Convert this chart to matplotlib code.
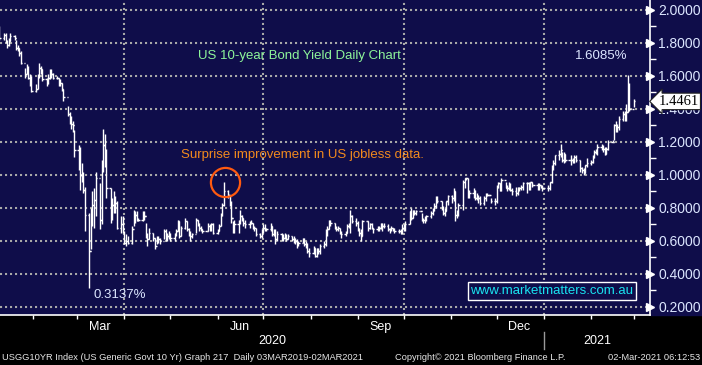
import numpy as np
import pandas as pd
import matplotlib
matplotlib.use('Agg')
import matplotlib.pyplot as plt
import matplotlib.dates as mdates
from matplotlib.patches import Rectangle
from matplotlib.lines import Line2D
from matplotlib.transforms import blended_transform_factory

plt.rcParams['font.family'] = ['Liberation Sans', 'DejaVu Sans']

# daily US 10y yield bars, business days 08-Jan-2020 .. 01-Mar-2021 (one line per month)
CLOSE = [
    1.87, 1.86, 1.83, 1.85, 1.81, 1.79, 1.81, 1.84, 1.83, 1.77, 1.77, 1.74, 1.68, 1.61, 1.65, 1.59, 1.58, 1.51,
    1.52, 1.60, 1.65, 1.64, 1.58, 1.56, 1.59, 1.62, 1.61, 1.59, 1.59, 1.55, 1.56, 1.52, 1.47, 1.37, 1.33, 1.31, 1.30, 1.15,
    1.16, 1.00, 1.00, 0.91, 0.76, 0.54, 0.77, 0.82, 0.85, 0.98, 0.73, 1.08, 1.18, 1.12, 0.92, 0.76, 0.82, 0.86, 0.83, 0.68, 0.70, 0.67,
    0.59, 0.60, 0.59, 0.67, 0.73, 0.76, 0.73, 0.73, 0.77, 0.75, 0.63, 0.61, 0.65, 0.62, 0.57, 0.62, 0.61, 0.60, 0.66, 0.61, 0.63, 0.64,
    0.62, 0.64, 0.66, 0.72, 0.63, 0.68, 0.72, 0.67, 0.65, 0.63, 0.64, 0.73, 0.70, 0.68, 0.67, 0.66, 0.66, 0.69, 0.68, 0.70, 0.65,
    0.66, 0.69, 0.76, 0.82, 0.90, 0.88, 0.83, 0.74, 0.66, 0.70, 0.72, 0.75, 0.74, 0.71, 0.70, 0.71, 0.71, 0.68, 0.68, 0.64, 0.63, 0.66,
    0.68, 0.67, 0.67, 0.69, 0.64, 0.66, 0.61, 0.64, 0.62, 0.62, 0.63, 0.61, 0.63, 0.61, 0.61, 0.60, 0.58, 0.59, 0.61, 0.58, 0.58, 0.54, 0.53,
    0.56, 0.51, 0.55, 0.54, 0.57, 0.58, 0.66, 0.67, 0.72, 0.71, 0.68, 0.67, 0.68, 0.65, 0.64, 0.65, 0.69, 0.69, 0.75, 0.72, 0.71,
    0.67, 0.65, 0.63, 0.72, 0.72, 0.68, 0.70, 0.68, 0.67, 0.67, 0.68, 0.70, 0.69, 0.69, 0.67, 0.67, 0.68, 0.67, 0.66, 0.66, 0.65, 0.68,
    0.68, 0.70, 0.78, 0.74, 0.78, 0.77, 0.78, 0.78, 0.73, 0.73, 0.74, 0.75, 0.77, 0.79, 0.81, 0.86, 0.84, 0.80, 0.77, 0.78, 0.84, 0.87,
    0.86, 0.90, 0.76, 0.77, 0.82, 0.96, 0.98, 0.98, 0.88, 0.89, 0.90, 0.86, 0.87, 0.86, 0.83, 0.86, 0.88, 0.88, 0.88, 0.84, 0.84,
    0.93, 0.95, 0.91, 0.97, 0.92, 0.92, 0.94, 0.91, 0.90, 0.89, 0.92, 0.92, 0.93, 0.95, 0.95, 0.92, 0.96, 0.94, 0.94, 0.93, 0.94, 0.93, 0.92,
    0.92, 0.92, 0.96, 1.04, 1.07, 1.12, 1.13, 1.15, 1.09, 1.13, 1.09, 1.09, 1.09, 1.09, 1.11, 1.09, 1.04, 1.03, 1.01, 1.06, 1.07,
    1.08, 1.11, 1.14, 1.14, 1.17, 1.17, 1.16, 1.13, 1.16, 1.20, 1.20, 1.30, 1.27, 1.29, 1.34, 1.37, 1.36, 1.38, 1.52, 1.40,
    1.4461,
]
HIGH = [
    1.89, 1.89, 1.90, 1.86, 1.86, 1.82, 1.83, 1.86, 1.85, 1.82, 1.79, 1.77, 1.75, 1.65, 1.67, 1.66, 1.61, 1.60,
    1.55, 1.61, 1.68, 1.66, 1.64, 1.59, 1.61, 1.64, 1.64, 1.62, 1.60, 1.59, 1.58, 1.56, 1.52, 1.42, 1.38, 1.36, 1.33, 1.27,
    1.18, 1.17, 1.07, 1.02, 0.93, 0.77, 0.80, 0.90, 0.92, 1.02, 0.95, 1.09, 1.28, 1.25, 1.16, 0.92, 0.86, 0.90, 0.87, 0.84, 0.75, 0.75,
    0.66, 0.64, 0.63, 0.69, 0.79, 0.78, 0.78, 0.74, 0.78, 0.78, 0.71, 0.65, 0.68, 0.65, 0.62, 0.63, 0.63, 0.62, 0.67, 0.67, 0.65, 0.66,
    0.65, 0.65, 0.67, 0.73, 0.72, 0.69, 0.74, 0.72, 0.68, 0.66, 0.65, 0.74, 0.73, 0.71, 0.69, 0.67, 0.66, 0.71, 0.70, 0.71, 0.71,
    0.67, 0.70, 0.77, 0.83, 0.96, 0.91, 0.88, 0.84, 0.72, 0.73, 0.73, 0.79, 0.76, 0.74, 0.73, 0.72, 0.73, 0.71, 0.69, 0.68, 0.65, 0.67,
    0.70, 0.70, 0.68, 0.71, 0.69, 0.67, 0.67, 0.66, 0.65, 0.64, 0.65, 0.64, 0.64, 0.63, 0.63, 0.62, 0.61, 0.60, 0.62, 0.62, 0.60, 0.59, 0.56,
    0.57, 0.56, 0.56, 0.56, 0.58, 0.60, 0.67, 0.69, 0.73, 0.73, 0.71, 0.69, 0.69, 0.68, 0.66, 0.66, 0.70, 0.71, 0.79, 0.76, 0.74,
    0.72, 0.68, 0.67, 0.73, 0.72, 0.72, 0.71, 0.71, 0.68, 0.69, 0.69, 0.71, 0.71, 0.71, 0.70, 0.68, 0.69, 0.68, 0.68, 0.67, 0.67, 0.70,
    0.70, 0.72, 0.78, 0.80, 0.79, 0.79, 0.79, 0.78, 0.77, 0.74, 0.75, 0.76, 0.78, 0.80, 0.83, 0.87, 0.87, 0.84, 0.81, 0.80, 0.84, 0.88,
    0.88, 0.92, 0.90, 0.79, 0.83, 0.97, 0.98, 0.98, 0.98, 0.91, 0.92, 0.91, 0.89, 0.88, 0.87, 0.87, 0.89, 0.89, 0.88, 0.86, 0.86,
    0.94, 0.96, 0.95, 0.98, 0.96, 0.94, 0.96, 0.95, 0.92, 0.93, 0.93, 0.93, 0.94, 0.96, 0.96, 0.96, 0.96, 0.96, 0.94, 0.95, 0.95, 0.94, 0.94,
    0.92, 0.94, 0.96, 1.06, 1.09, 1.12, 1.15, 1.19, 1.14, 1.14, 1.13, 1.09, 1.12, 1.10, 1.12, 1.12, 1.09, 1.05, 1.04, 1.06, 1.10,
    1.09, 1.12, 1.15, 1.16, 1.19, 1.19, 1.18, 1.17, 1.17, 1.21, 1.21, 1.31, 1.33, 1.31, 1.36, 1.39, 1.39, 1.43, 1.6085, 1.56,
    1.46,
]
LOW = [
    1.85, 1.83, 1.82, 1.82, 1.80, 1.77, 1.78, 1.81, 1.82, 1.76, 1.75, 1.72, 1.67, 1.59, 1.61, 1.58, 1.54, 1.50,
    1.50, 1.52, 1.59, 1.61, 1.57, 1.54, 1.55, 1.58, 1.59, 1.58, 1.58, 1.54, 1.54, 1.51, 1.45, 1.36, 1.31, 1.28, 1.26, 1.11,
    1.03, 0.91, 0.96, 0.89, 0.66, 0.3137, 0.55, 0.69, 0.68, 0.75, 0.67, 0.70, 1.02, 1.05, 0.86, 0.71, 0.73, 0.77, 0.77, 0.67, 0.65, 0.65,
    0.58, 0.57, 0.58, 0.58, 0.69, 0.71, 0.72, 0.72, 0.72, 0.73, 0.62, 0.57, 0.61, 0.60, 0.55, 0.58, 0.59, 0.58, 0.61, 0.60, 0.60, 0.61,
    0.60, 0.60, 0.63, 0.66, 0.62, 0.63, 0.67, 0.66, 0.63, 0.60, 0.62, 0.65, 0.69, 0.66, 0.66, 0.65, 0.66, 0.66, 0.66, 0.66, 0.64,
    0.64, 0.66, 0.69, 0.75, 0.81, 0.86, 0.81, 0.71, 0.65, 0.65, 0.65, 0.70, 0.72, 0.69, 0.68, 0.68, 0.70, 0.67, 0.66, 0.63, 0.62, 0.62,
    0.65, 0.66, 0.66, 0.66, 0.63, 0.63, 0.58, 0.60, 0.60, 0.60, 0.61, 0.60, 0.61, 0.60, 0.59, 0.58, 0.56, 0.57, 0.59, 0.57, 0.56, 0.53, 0.50,
    0.52, 0.50, 0.50, 0.52, 0.52, 0.56, 0.57, 0.63, 0.67, 0.69, 0.67, 0.66, 0.66, 0.64, 0.62, 0.63, 0.65, 0.68, 0.65, 0.71, 0.69,
    0.66, 0.63, 0.60, 0.63, 0.72, 0.66, 0.67, 0.67, 0.65, 0.66, 0.66, 0.67, 0.66, 0.68, 0.66, 0.65, 0.66, 0.66, 0.65, 0.65, 0.64, 0.64,
    0.66, 0.66, 0.70, 0.73, 0.74, 0.76, 0.76, 0.78, 0.72, 0.71, 0.71, 0.72, 0.74, 0.76, 0.78, 0.80, 0.83, 0.79, 0.76, 0.75, 0.78, 0.82,
    0.83, 0.84, 0.72, 0.74, 0.75, 0.79, 0.92, 0.97, 0.86, 0.86, 0.86, 0.85, 0.85, 0.83, 0.82, 0.82, 0.84, 0.87, 0.88, 0.83, 0.82,
    0.83, 0.92, 0.90, 0.90, 0.92, 0.90, 0.91, 0.90, 0.88, 0.87, 0.88, 0.90, 0.91, 0.91, 0.89, 0.91, 0.91, 0.93, 0.94, 0.91, 0.91, 0.92, 0.90,
    0.92, 0.90, 0.91, 0.95, 1.03, 1.06, 1.09, 1.11, 1.08, 1.07, 1.08, 1.09, 1.06, 1.07, 1.07, 1.08, 1.02, 1.01, 1.00, 1.01, 1.05,
    1.06, 1.07, 1.10, 1.13, 1.12, 1.15, 1.14, 1.12, 1.13, 1.15, 1.20, 1.21, 1.26, 1.26, 1.27, 1.33, 1.33, 1.33, 1.38, 1.39,
    1.41,
]
Y_TICKS = [0.2, 0.4, 0.6, 0.8, 1.0, 1.2, 1.4, 1.6, 1.8, 2.0]
LAST = 1.4461

NAVY = '#0f0d4a'
GRID = '#a8a8a8'
LABEL = '#dce6ff'

dates = pd.bdate_range('2020-01-08', '2021-03-01')
n = min(len(dates), len(CLOSE), len(HIGH), len(LOW))
x = mdates.date2num(dates[:n])
close = np.array(CLOSE[:n])
high = np.array(HIGH[:n])
low = np.array(LOW[:n])
opn = np.r_[close[0], close[:-1]]

fig = plt.figure(figsize=(7.02, 3.65), dpi=100, facecolor='black')
ax = fig.add_axes([0, 50 / 365, 650 / 702, 315 / 365], facecolor=NAVY)
fig.add_artist(Rectangle((650 / 702, 50 / 365), 52 / 702, 315 / 365,
                         transform=fig.transFigure, color=NAVY, zorder=-5))

x0 = mdates.date2num(pd.Timestamp('2020-01-10 09:00'))
x1 = mdates.date2num(pd.Timestamp('2021-03-11 14:00'))
ax.set_xlim(x0, x1)
ax.set_ylim(0.1515, 2.0606)

# grid
for v in Y_TICKS:
    ax.axhline(v, color=GRID, lw=1.5, ls=(0, (1, 1.4)), zorder=1)
for d in ['2020-04-01', '2020-07-01', '2020-10-01', '2021-01-01']:
    ax.axvline(mdates.date2num(pd.Timestamp(d)), color=GRID, lw=1.5, ls=(0, (1, 1.4)), zorder=1)

# OHLC bars
ax.vlines(x, low, high, color='white', lw=1.0, zorder=3)
ax.hlines(opn, x - 0.9, x, color='white', lw=1.0, zorder=3)
ax.hlines(close, x, x + 0.9, color='white', lw=1.0, zorder=3)

# spines
for s in ['top', 'left']:
    ax.spines[s].set_visible(False)
for s in ['right', 'bottom']:
    ax.spines[s].set_color('white')
    ax.spines[s].set_linewidth(1.2)

# y axis on the right
ax.yaxis.tick_right()
ax.set_yticks(Y_TICKS)
ax.set_yticks(np.arange(0.3, 2.0, 0.2), minor=True)
ax.yaxis.set_major_formatter(plt.FormatStrFormatter('%.4f'))
ax.tick_params(axis='y', which='major', length=0, pad=6, labelsize=10, labelcolor=LABEL)
ax.tick_params(axis='y', which='minor', length=4, width=1, color='white', direction='out')
ytr = blended_transform_factory(ax.transAxes, ax.transData)
ax.plot(np.full(len(Y_TICKS), 1.0), Y_TICKS, ls='none', marker='>', ms=5.5,
        color='white', transform=ytr, clip_on=False, zorder=5)

# x axis: month ticks, quarter-month labels
ax.xaxis.set_major_locator(mdates.MonthLocator())
ax.xaxis.set_major_formatter(plt.NullFormatter())
ax.xaxis.set_minor_locator(mdates.MonthLocator(bymonth=[3, 6, 9, 12], bymonthday=16))
ax.xaxis.set_minor_formatter(mdates.DateFormatter('%b'))
ax.tick_params(axis='x', which='major', length=3, width=1, color='white', direction='out')
ax.tick_params(axis='x', which='minor', length=0, pad=4, labelsize=9, labelcolor='white')

# years
yr_split = mdates.date2num(pd.Timestamp('2021-01-01'))
xfig = blended_transform_factory(ax.transData, fig.transFigure)
fig.text((x0 + yr_split) / 2, 1 - 341 / 365, '2020', transform=xfig, ha='center', va='center',
         color='white', fontsize=9)
fig.text((yr_split + x1) / 2, 1 - 341 / 365, '2021', transform=xfig, ha='center', va='center',
         color='white', fontsize=9)
fig.add_artist(Line2D([yr_split, yr_split], [1 - 332 / 365, 1 - 349 / 365], transform=xfig,
                      color='#9a9a9a', lw=1))

# last value tag
ax.text(1.013, LAST, '%.4f' % LAST, transform=ytr, ha='left', va='center', fontsize=10.5,
        family='Liberation Serif', color='black', zorder=6,
        bbox=dict(boxstyle='larrow,pad=0.12', fc='white', ec='#202020', lw=0.8))

# annotations
ax.text(0.46, 0.822, 'US 10-year Bond Yield Daily Chart', transform=ax.transAxes,
        ha='center', va='center', color='#8ef59a', fontsize=9.5)
ax.text(0.925, 0.822, '1.6085%', transform=ax.transAxes, ha='center', va='center',
        color=LABEL, fontsize=9.5)
ax.text(0.466, 0.508, 'Surprise improvement in US jobless data.', transform=ax.transAxes,
        ha='center', va='center', color='#f28a1e', fontsize=9.5)
ax.text(0.185, 0.063, '0.3137%', transform=ax.transAxes, ha='center', va='center',
        color=LABEL, fontsize=9.5)
ax.plot([mdates.date2num(pd.Timestamp('2020-06-06'))], [0.96], marker='o', ms=21,
        mfc='none', mec='#ff5a10', mew=1.6, zorder=4)
ax.text(0.849, 0.076, 'www.marketmatters.com.au', transform=ax.transAxes, ha='center',
        va='center', color='#19e3f0', fontsize=9.5, zorder=6,
        bbox=dict(boxstyle='square,pad=0.2', fc=NAVY, ec='white', lw=1))

# footer
fig.text(2 / 702, 1 - 357 / 365, 'USGG10YR Index (US Generic Govt 10 Yr) Graph 217  Daily 03MAR2019-02MAR2021',
         ha='left', va='center', color='#e6e6e6', fontsize=6.7)
fig.text(395 / 702, 1 - 357 / 365, 'Copyright\u00a9 2021 Bloomberg Finance L.P.',
         ha='left', va='center', color='#e6e6e6', fontsize=6.7)
fig.text(700 / 702, 1 - 357 / 365, '02-Mar-2021 06:12:53',
         ha='right', va='center', color='#e6e6e6', fontsize=6.7)

fig.savefig('out.png', dpi=100, facecolor='black')
